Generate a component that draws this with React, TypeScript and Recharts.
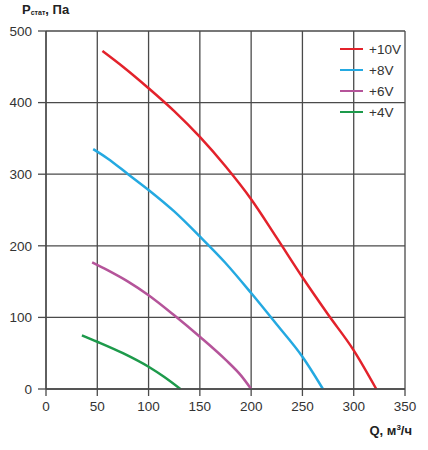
import { CartesianGrid, Legend, Line, LineChart, XAxis, YAxis } from "recharts";

// Q, m3/h vs static pressure, Pa
const xTicks = [0, 50, 100, 150, 200, 250, 300, 350];
const yTicks = [0, 100, 200, 300, 400, 500];

const v10 = [
  { q: 55, p: 472 }, { q: 75, p: 450 }, { q: 100, p: 420 }, { q: 125, p: 388 },
  { q: 150, p: 352 }, { q: 175, p: 311 }, { q: 200, p: 265 }, { q: 225, p: 211 },
  { q: 250, p: 156 }, { q: 275, p: 104 }, { q: 300, p: 54 }, { q: 322, p: 0 },
];
const v8 = [
  { q: 46, p: 335 }, { q: 60, p: 322 }, { q: 80, p: 300 }, { q: 100, p: 278 },
  { q: 125, p: 248 }, { q: 150, p: 213 }, { q: 175, p: 176 }, { q: 200, p: 134 },
  { q: 225, p: 90 }, { q: 250, p: 45 }, { q: 270, p: 0 },
];
const v6 = [
  { q: 45, p: 177 }, { q: 60, p: 166 }, { q: 80, p: 150 }, { q: 100, p: 131 },
  { q: 125, p: 103 }, { q: 150, p: 73 }, { q: 175, p: 41 }, { q: 190, p: 19 },
  { q: 200, p: 0 },
];
const v4 = [
  { q: 35, p: 75 }, { q: 50, p: 66 }, { q: 75, p: 50 }, { q: 100, p: 31 },
  { q: 115, p: 17 }, { q: 131, p: 0 },
];

const series = [
  { name: "+10V", data: v10, color: "#e3222b" },
  { name: "+8V", data: v8, color: "#24a9e1" },
  { name: "+6V", data: v6, color: "#b5549a" },
  { name: "+4V", data: v4, color: "#1d9a4b" },
];

const font = "'Liberation Sans', Arial, sans-serif";
const gridColor = "#4a4a4a";
const tickStyle = { fontSize: 13.5, fill: "#333", fontFamily: font };

function LegendBox() {
  return (
    <div style={{ fontFamily: font, fontSize: 13.5, color: "#333" }}>
      {series.map((s) => (
        <div key={s.name} style={{ display: "flex", alignItems: "center", height: 21 }}>
          <span style={{ width: 23, height: 2.5, background: s.color, marginRight: 6 }} />
          <span>{s.name}</span>
        </div>
      ))}
    </div>
  );
}

export default function App() {
  return (
    <div style={{ position: "absolute", left: 0, top: 0, width: 428, height: 450, background: "#fff" }}>
      <LineChart width={428} height={450} margin={{ top: 31, right: 23, left: 0, bottom: 0 }}>
        <CartesianGrid stroke={gridColor} strokeWidth={1.3} />
        <XAxis
          dataKey="q"
          type="number"
          domain={[0, 350]}
          ticks={xTicks}
          allowDuplicatedCategory={false}
          height={61}
          tickSize={7}
          tickMargin={5}
          stroke={gridColor}
          strokeWidth={1.3}
          tick={tickStyle}
          label={{
            content: () => (
              <text x={412} y={435} textAnchor="end" fontFamily={font} fontSize={13} fontWeight="bold" fill="#222">
                Q, м<tspan dy={-5} fontSize={8}>3</tspan><tspan dy={5}>/ч</tspan>
              </text>
            ),
          }}
        />
        <YAxis
          dataKey="p"
          type="number"
          domain={[0, 500]}
          ticks={yTicks}
          width={46}
          tickSize={8}
          tickMargin={6}
          stroke={gridColor}
          strokeWidth={1.3}
          tick={tickStyle}
          label={{
            content: () => (
              <text x={22} y={14} fontFamily={font} fontSize={13} fontWeight="bold" fill="#222">
                P<tspan fontSize={7} dy={1}>стат</tspan><tspan dy={-1}>, Па</tspan>
              </text>
            ),
          }}
        />
        <Legend
          layout="vertical"
          align="center"
          verticalAlign="middle"
          content={<LegendBox />}
          wrapperStyle={{ position: "absolute", left: 340, top: 38.5, width: 80 }}
        />
        {series.map((s) => (
          <Line
            key={s.name}
            name={s.name}
            data={s.data}
            dataKey="p"
            type="monotone"
            stroke={s.color}
            strokeWidth={2.5}
            dot={false}
            activeDot={false}
            isAnimationActive={false}
          />
        ))}
      </LineChart>
    </div>
  );
}
